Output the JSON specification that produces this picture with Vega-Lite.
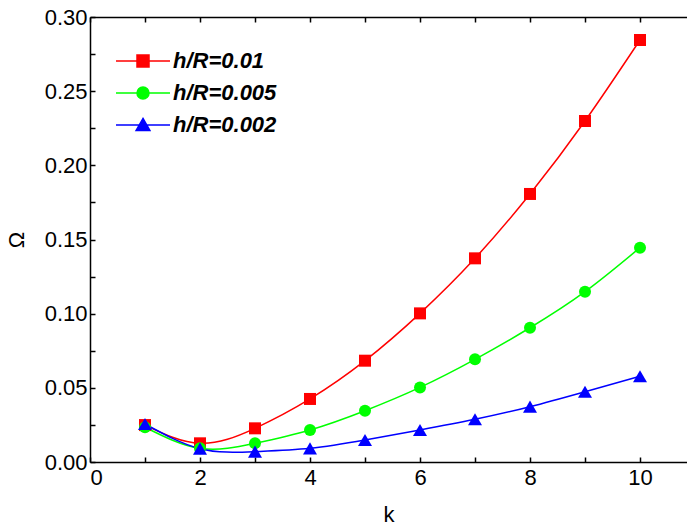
{
  "$schema": "https://vega.github.io/schema/vega-lite/v6.json",
  "width": 597,
  "height": 445,
  "autosize": {"type": "none"},
  "padding": {"left": 90, "top": 17, "right": 0, "bottom": 68},
  "background": "white",
  "config": {
    "view": {"stroke": null},
    "font": "Liberation Sans",
    "axis": {
      "domainColor": "black",
      "domainWidth": 1.5,
      "tickColor": "black",
      "tickWidth": 1.5,
      "tickSize": -5,
      "labelColor": "black",
      "labelFont": "Liberation Sans",
      "labelFontSize": 22,
      "labelFontWeight": "normal",
      "titleColor": "black",
      "titleFont": "Liberation Sans",
      "titleFontSize": 22,
      "titleFontWeight": "normal",
      "grid": false
    }
  },
  "resolve": {"axis": {"x": "independent", "y": "shared"}},
  "data": {
    "values": [
      {"series": "h/R=0.01", "k": 1, "omega": 0.0249},
      {"series": "h/R=0.01", "k": 2, "omega": 0.0126},
      {"series": "h/R=0.01", "k": 3, "omega": 0.0227},
      {"series": "h/R=0.01", "k": 4, "omega": 0.0425},
      {"series": "h/R=0.01", "k": 5, "omega": 0.0683},
      {"series": "h/R=0.01", "k": 6, "omega": 0.1002},
      {"series": "h/R=0.01", "k": 7, "omega": 0.1373},
      {"series": "h/R=0.01", "k": 8, "omega": 0.1807},
      {"series": "h/R=0.01", "k": 9, "omega": 0.2299},
      {"series": "h/R=0.01", "k": 10, "omega": 0.2845},
      {"series": "h/R=0.005", "k": 1, "omega": 0.0234},
      {"series": "h/R=0.005", "k": 2, "omega": 0.0092},
      {"series": "h/R=0.005", "k": 3, "omega": 0.0126},
      {"series": "h/R=0.005", "k": 4, "omega": 0.0216},
      {"series": "h/R=0.005", "k": 5, "omega": 0.0346},
      {"series": "h/R=0.005", "k": 6, "omega": 0.0503},
      {"series": "h/R=0.005", "k": 7, "omega": 0.0692},
      {"series": "h/R=0.005", "k": 8, "omega": 0.0905},
      {"series": "h/R=0.005", "k": 9, "omega": 0.1148},
      {"series": "h/R=0.005", "k": 10, "omega": 0.1445},
      {"series": "h/R=0.002", "k": 1, "omega": 0.0256},
      {"series": "h/R=0.002", "k": 2, "omega": 0.0090},
      {"series": "h/R=0.002", "k": 3, "omega": 0.0070},
      {"series": "h/R=0.002", "k": 4, "omega": 0.0092},
      {"series": "h/R=0.002", "k": 5, "omega": 0.0148},
      {"series": "h/R=0.002", "k": 6, "omega": 0.0216},
      {"series": "h/R=0.002", "k": 7, "omega": 0.0288},
      {"series": "h/R=0.002", "k": 8, "omega": 0.0373},
      {"series": "h/R=0.002", "k": 9, "omega": 0.0474},
      {"series": "h/R=0.002", "k": 10, "omega": 0.0578}
    ]
  },
  "encoding": {
    "x": {
      "field": "k",
      "type": "quantitative",
      "scale": {"domain": [0, 10.8545], "nice": false, "zero": false},
      "axis": null
    },
    "y": {
      "field": "omega",
      "type": "quantitative",
      "scale": {"domain": [0, 0.3], "nice": false},
      "axis": {
        "title": "Ω",
        "values": [0, 0.025, 0.05, 0.075, 0.1, 0.125, 0.15, 0.175, 0.2, 0.225, 0.25, 0.275, 0.3],
        "format": ".2f",
        "labelExpr": "round(datum.value * 1000) % 50 == 0 ? datum.label : ''",
        "labelPadding": 8,
        "titlePadding": 16
      }
    },
    "color": {
      "field": "series",
      "type": "nominal",
      "sort": ["h/R=0.01", "h/R=0.005", "h/R=0.002"],
      "scale": {"domain": ["h/R=0.01", "h/R=0.005", "h/R=0.002"], "range": ["#ff0000", "#00ff00", "#0000ff"]},
      "legend": {
        "orient": "none",
        "legendX": 42,
        "legendY": 33,
        "title": null,
        "labelFont": "Liberation Sans",
        "labelFontSize": 22,
        "labelFontWeight": "bold",
        "labelFontStyle": "italic",
        "labelColor": "black",
        "symbolSize": 144,
        "symbolStrokeWidth": 1.5,
        "labelOffset": 19,
        "rowPadding": 10,
        "encode": {
          "symbols": {
            "update": {
              "shape": {"signal": "datum.value == 'h/R=0.01' ? 'M-4.5,0H4.5M-1,-1H1V1H-1Z' : datum.value == 'h/R=0.005' ? 'M-4.5,0H4.5M-1,0A1,1,0,1,1,1,0A1,1,0,1,1,-1,0Z' : 'M-4.5,0H4.5M0,-1.1L1.15,0.9L-1.15,0.9Z'"},
              "stroke": {"scale": "color", "field": "value"},
              "fill": {"scale": "color", "field": "value"},
              "strokeWidth": {"value": 1.5},
              "opacity": {"value": 1}
            }
          }
        }
      }
    }
  },
  "layer": [
    {
      "mark": {"type": "line", "interpolate": "natural", "strokeWidth": 1.5},
      "encoding": {
        "x": {
          "field": "k",
          "type": "quantitative",
          "scale": {"domain": [0, 10.8545], "nice": false, "zero": false},
          "axis": {
            "orient": "bottom",
            "title": "k",
            "values": [0, 1, 2, 3, 4, 5, 6, 7, 8, 9, 10],
            "labelExpr": "datum.value % 2 == 0 ? datum.label : ''",
            "labelPadding": 10,
            "titlePadding": 16
          }
        }
      }
    },
    {
      "transform": [{"filter": "datum.series == 'h/R=0.01'"}],
      "mark": {"type": "point", "shape": "square", "filled": true, "opacity": 1, "size": 144}
    },
    {
      "transform": [{"filter": "datum.series == 'h/R=0.005'"}],
      "mark": {"type": "point", "shape": "circle", "filled": true, "opacity": 1, "size": 144}
    },
    {
      "transform": [{"filter": "datum.series == 'h/R=0.002'"}],
      "mark": {"type": "point", "shape": "triangle-up", "filled": true, "opacity": 1, "size": 196}
    },
    {
      "mark": {"type": "point", "opacity": 0},
      "encoding": {
        "x": {
          "field": "k",
          "type": "quantitative",
          "scale": {"domain": [0, 10.8545], "nice": false, "zero": false},
          "axis": {
            "orient": "top",
            "title": null,
            "labels": false,
            "values": [0, 1, 2, 3, 4, 5, 6, 7, 8, 9, 10]
          }
        }
      }
    }
  ]
}
